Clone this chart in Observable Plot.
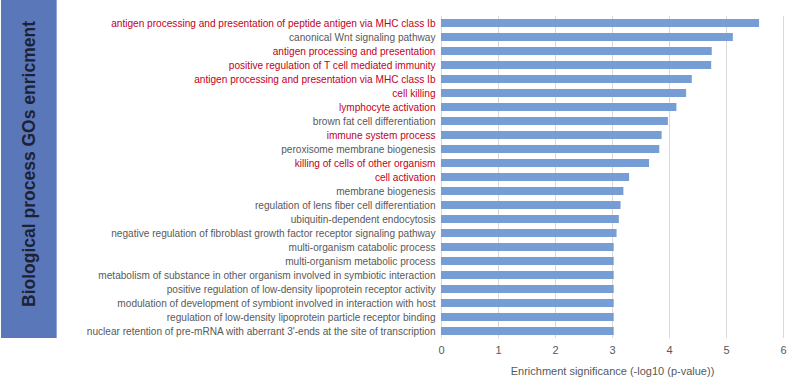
<!DOCTYPE html>
<html>
<head>
<meta charset="utf-8">
<script src="https://cdn.jsdelivr.net/npm/d3@7"></script>
<script src="https://cdn.jsdelivr.net/npm/@observablehq/plot@0.6"></script>
<style>
  html, body { margin: 0; padding: 0; background: #fff; }
  #wrap { position: relative; width: 791px; height: 383px; font-family: "Liberation Sans", Arial, sans-serif; }
  #side { position: absolute; left: 1px; top: 0; width: 56px; height: 338px; background: #5a77b9; border-right: 1px solid #8fa6d6; box-sizing: border-box; }
  #side span { position: absolute; left: 28px; top: 164px; transform: translate(-50%, -50%) rotate(-90deg); white-space: nowrap; font-weight: bold; font-size: 17.5px; color: #1c2233; }
  #chart { position: absolute; left: 0; top: 0; }
</style>
</head>
<body>
<div id="wrap">
  <div id="side"><span>Biological process GOs enricment</span></div>
  <div id="chart"></div>
</div>
<script>
const terms = [
  "antigen processing and presentation of peptide antigen via MHC class Ib",
  "canonical Wnt signaling pathway",
  "antigen processing and presentation",
  "positive regulation of T cell mediated immunity",
  "antigen processing and presentation via MHC class Ib",
  "cell killing",
  "lymphocyte activation",
  "brown fat cell differentiation",
  "immune system process",
  "peroxisome membrane biogenesis",
  "killing of cells of other organism",
  "cell activation",
  "membrane biogenesis",
  "regulation of lens fiber cell differentiation",
  "ubiquitin-dependent endocytosis",
  "negative regulation of fibroblast growth factor receptor signaling pathway",
  "multi-organism catabolic process",
  "multi-organism metabolic process",
  "metabolism of substance in other organism involved in symbiotic interaction",
  "positive regulation of low-density lipoprotein receptor activity",
  "modulation of development of symbiont involved in interaction with host",
  "regulation of low-density lipoprotein particle receptor binding",
  "nuclear retention of pre-mRNA with aberrant 3'-ends at the site of transcription"
];
const values = [5.58, 5.12, 4.75, 4.74, 4.40, 4.30, 4.13, 3.98, 3.87, 3.83, 3.65, 3.30, 3.20, 3.15, 3.12, 3.08, 3.03, 3.03, 3.03, 3.03, 3.03, 3.03, 3.03];
const immune = [true, false, true, true, true, true, true, false, true, false, true, true, false, false, false, false, false, false, false, false, false, false, false];
const xTicks = [0, 1, 2, 3, 4, 5, 6];
const xLabel = "Enrichment significance (-log10 (p-value))";

const data = terms.map((t, i) => ({term: t, value: values[i], immune: immune[i]}));

const chart = Plot.plot({
  width: 791,
  height: 383,
  marginLeft: 441,
  marginRight: 8,
  marginTop: 16,
  marginBottom: 45,
  style: {fontFamily: "'Liberation Sans', Arial, sans-serif", fontSize: "10px", background: "transparent"},
  x: {domain: [0, 6]},
  y: {domain: terms, paddingInner: 0.42, paddingOuter: 0, axis: null},
  marks: [
    Plot.gridX(xTicks, {stroke: "#d9d9d9", strokeOpacity: 1, strokeWidth: 1}),
    Plot.barX(data, {x: "value", y: "term", fill: "#779ed4"}),
    Plot.text(data, {x: 0, y: "term", text: "term", dx: -6, textAnchor: "end",
      fill: d => d.immune ? "#c4001c" : "#595959", fontSize: 10.1}),
    Plot.axisX(xTicks, {tickSize: 0, tickPadding: 8, stroke: "none", color: "#595959", fontSize: 11,
      label: xLabel, labelAnchor: "center", labelOffset: 36, labelArrow: "none"})
  ]
});
document.getElementById("chart").appendChild(chart);
</script>
</body>
</html>
